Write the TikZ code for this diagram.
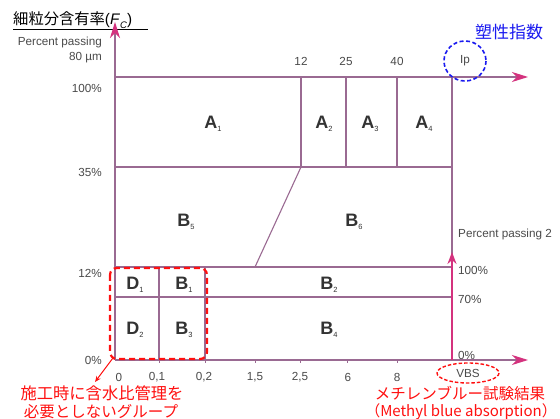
\documentclass[tikz,border=0pt]{standalone}
\usepackage{fontspec}
\setmainfont{Liberation Sans}
\newfontfamily\cjk{Noto Sans CJK JP}
\usetikzlibrary{arrows.meta}
\definecolor{gridc}{HTML}{9A6A92}
\definecolor{tipc}{HTML}{D4327E}
\definecolor{txtc}{HTML}{4A4A4A}
\definecolor{lblc}{HTML}{333333}
\definecolor{redc}{HTML}{FF1010}
\definecolor{bluec}{HTML}{1A1AF0}
\newcommand{\rsub}[1]{\raisebox{-0.35ex}{\fontsize{7.5}{7.5}\selectfont\mdseries #1}}
\begin{document}
\begin{tikzpicture}[x=1pt,y=-1pt,
 gridline/.style={draw=gridc, line width=1.1pt},
 axisarrow/.style={draw=gridc, line width=1.2pt, -{Stealth[length=16pt,width=10pt,inset=5pt,color=tipc]}},
 vertarrow/.style={draw=tipc, line width=2pt, -{Stealth[length=12pt,width=9pt,inset=4pt,color=tipc]}},
 small/.style={font=\fontsize{11.7}{13}\selectfont, text=txtc, inner sep=0pt},
 region/.style={font=\fontsize{18}{20}\selectfont\bfseries, text=lblc, inner sep=0pt},
 redtxt/.style={font=\cjk\fontsize{15.5}{18}\selectfont, text=redc, inner sep=0pt},
 tickmark/.style={draw=gridc, line width=0.8pt},
]
\useasboundingbox[fill=white] (0,0) rectangle (560,419);

% coordinates
\coordinate (O) at (115,360);
\coordinate (Ytip) at (115,22);
\coordinate (T0) at (115,77);
\coordinate (Ttip) at (528,77);
\coordinate (Xtip) at (528,360);
\coordinate (R0) at (452,360);
\coordinate (Rtip) at (452,252);
\coordinate (a12) at (301,77);  \coordinate (b12) at (301,167);
\coordinate (a25) at (346,77);  \coordinate (b25) at (346,167);
\coordinate (a40) at (397,77);  \coordinate (b40) at (397,167);
\coordinate (aIp) at (452,77);  \coordinate (bIp) at (452,267);
\coordinate (L35) at (115,167); \coordinate (R35) at (452,167);
\coordinate (L12) at (115,267); \coordinate (R12) at (452,267);
\coordinate (L70) at (115,297); \coordinate (R70) at (452,297);
\coordinate (s15) at (255,267);
\coordinate (a01) at (159,267); \coordinate (b01) at (159,360);
\coordinate (a02) at (205,267); \coordinate (b02) at (205,360);

% title underline
\coordinate (u0) at (13,29); \coordinate (u1) at (148,29);
\draw[black, line width=0.8pt] (u0) -- (u1);

% grid lines
\draw[gridline] (a12) -- (b12);
\draw[gridline] (a25) -- (b25);
\draw[gridline] (a40) -- (b40);
\draw[gridline] (aIp) -- (bIp);
\draw[gridline] (L35) -- (R35);
\draw[gridline] (L12) -- (R12);
\draw[gridline] (L70) -- (R70);
\draw[gridline] (b12) -- (s15);
\draw[gridline] (a01) -- (b01);
\draw[gridline] (a02) -- (b02);

% ticks on bottom axis
\foreach \x in {159,205,255,300,347,397}{
  \draw[tickmark] (\x,360) -- (\x,363);
}

% axes
\draw[axisarrow] (O) -- (Ytip);
\draw[axisarrow] (T0) -- (Ttip);
\draw[axisarrow] (O) -- (Xtip);
\draw[vertarrow] (R0) -- (Rtip);

% title
\node[anchor=west, inner sep=0pt, font=\fontsize{15.3}{17}\selectfont] (title) at (13,20)
  {{\cjk 細粒分含有率}(\textit{F}\raisebox{-0.4ex}{\fontsize{9.5}{9.5}\selectfont\textit{C}})};

% left labels
\node[small, anchor=east] (pp) at (102,42) {Percent passing};
\node[small, anchor=east] (um) at (102,58) {80 µm};
\node[small, anchor=east] (l100) at (102,88) {100\%};
\node[small, anchor=east] (l35) at (102,172) {35\%};
\node[small, anchor=east] (l12) at (102,273) {12\%};
\node[small, anchor=east] (l0) at (102,360) {0\%};

% top labels
\node[small] (n12) at (301,61) {12};
\node[small] (n25) at (346,61) {25};
\node[small] (n40) at (397,61) {40};
\node[small] (nIp) at (465,61) {Ip};
\draw[bluec, line width=1.6pt, dash pattern=on 4pt off 2.5pt] (nIp) ellipse [x radius=21, y radius=20];
\node[font=\cjk\fontsize{17}{20}\selectfont, text=bluec, inner sep=0pt] (pi) at (509,32) {塑性指数};

% bottom labels
\node[small] (x0) at (119,377) {0};
\node[small] (x01) at (157,377) {0,1};
\node[small] (x02) at (204,377) {0,2};
\node[small] (x15) at (255,377) {1,5};
\node[small] (x25) at (300,377) {2,5};
\node[small] (x6) at (348,377) {6};
\node[small] (x8) at (397,377) {8};
\node[small] (vbs) at (468,373) {VBS};
\draw[redc, line width=1.4pt, dash pattern=on 3.5pt off 2pt] (vbs) ellipse [x radius=31, y radius=10];

% right labels
\node[small, anchor=west] (pp2) at (458,234) {Percent passing 2};
\node[small, anchor=west] (r100) at (458,270) {100\%};
\node[small, anchor=west] (r70) at (458,299) {70\%};
\node[small, anchor=west] (r0) at (458,355) {0\%};

% region labels
\node[region] (A1) at (213,124) {A\rsub{1}};
\node[region] (A2) at (324,124) {A\rsub{2}};
\node[region] (A3) at (370,124) {A\rsub{3}};
\node[region] (A4) at (424,124) {A\rsub{4}};
\node[region] (B5) at (186,222) {B\rsub{5}};
\node[region] (B6) at (354,222) {B\rsub{6}};
\node[region] (D1) at (135,285) {D\rsub{1}};
\node[region] (B1) at (184,285) {B\rsub{1}};
\node[region] (B2) at (329,285) {B\rsub{2}};
\node[region] (D2) at (135,330) {D\rsub{2}};
\node[region] (B3) at (184,330) {B\rsub{3}};
\node[region] (B4) at (329,330) {B\rsub{4}};

% red dashed group box
\coordinate (g0) at (110,268);
\coordinate (g1) at (207,359);
\draw[redc, line width=2.2pt, dash pattern=on 6pt off 4pt, rounded corners=7pt] (g0) rectangle (g1);

% red texts
\node[redtxt, font=\cjk\fontsize{16.3}{18}\selectfont] (rt1) at (102,393) {施工時に含水比管理を};
\node[redtxt, font=\cjk\fontsize{15.5}{18}\selectfont] (rt2) at (101,412) {必要としないグループ};
\node[redtxt] (rt3) at (460,393) {メチレンブルー試験結果};
\node[redtxt, font=\cjk\fontsize{15}{18}\selectfont] (rt4) at (461,412) {（Methyl blue absorption）};

\coordinate (gc) at (113,358);
\coordinate (ge) at (95,382);
\draw[redc, line width=1pt, -{Stealth[length=6pt,width=5pt]}] (gc) -- (ge);
\end{tikzpicture}
\end{document}
